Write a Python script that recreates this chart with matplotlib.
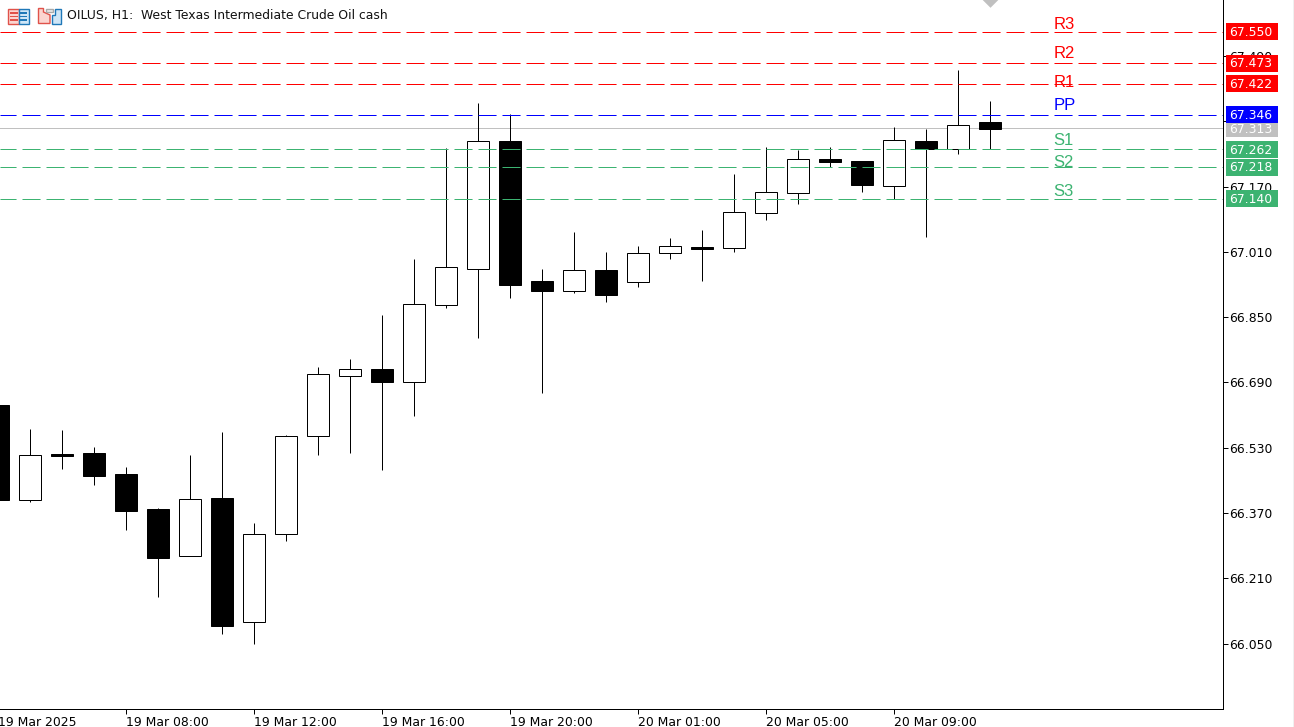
import matplotlib
matplotlib.use("Agg")
import matplotlib.pyplot as plt
from matplotlib.patches import Rectangle, Polygon

W, H = 1294, 727
plt.rcParams["font.family"] = ["DejaVu Sans"]
plt.rcParams["lines.scale_dashes"] = False

# candles, one per hour, oldest first
opens = [66.635, 66.402, 66.515, 66.518, 66.466, 66.381, 66.264, 66.408, 66.102, 66.318,
         66.558, 66.707, 66.723, 66.690, 66.881, 66.969, 67.282, 66.939, 66.915, 66.966,
         66.937, 67.008, 67.022, 67.020, 67.106, 67.155, 67.238, 67.233, 67.172, 67.282,
         67.263, 67.328]
highs = [66.635, 66.576, 66.574, 66.532, 66.483, 66.383, 66.513, 66.569, 66.346, 66.562,
         66.728, 66.748, 66.856, 66.993, 67.264, 67.375, 67.348, 66.968, 67.059, 67.010,
         67.025, 67.044, 67.064, 67.201, 67.266, 67.260, 67.266, 67.233, 67.316, 67.311,
         67.456, 67.380]
lows = [66.403, 66.396, 66.477, 66.439, 66.329, 66.165, 66.264, 66.074, 66.050, 66.302,
        66.513, 66.518, 66.476, 66.608, 66.873, 66.799, 66.897, 66.665, 66.910, 66.888,
        66.924, 66.993, 66.939, 67.010, 67.088, 67.128, 67.218, 67.157, 67.140, 67.047,
        67.250, 67.262]
closes = [66.403, 66.512, 66.511, 66.461, 66.376, 66.261, 66.404, 66.094, 66.319, 66.559,
          66.710, 66.723, 66.692, 66.882, 66.973, 67.281, 66.929, 66.914, 66.965, 66.905,
          67.007, 67.024, 67.017, 67.107, 67.156, 67.237, 67.230, 67.174, 67.284, 67.262,
          67.320, 67.311]

# pivot levels
level_names = ["R3", "R2", "R1", "PP", "S1", "S2", "S3"]
level_values = [67.550, 67.473, 67.422, 67.346, 67.262, 67.218, 67.140]
level_colors = ["#ff0000", "#ff0000", "#ff0000", "#0000ff", "#3cb371", "#3cb371", "#3cb371"]
level_label_y = [67.557, 67.486, 67.415, 67.359, 67.273, 67.217, 67.146]
current_price = 67.313

y_ticks = [66.050, 66.210, 66.370, 66.530, 66.690, 66.850, 67.010, 67.170, 67.330, 67.490]
x_tick_pos = [0, 4, 8, 12, 16, 20, 24, 28]
x_tick_labels = ["19 Mar 2025", "19 Mar 08:00", "19 Mar 12:00", "19 Mar 16:00",
                 "19 Mar 20:00", "20 Mar 01:00", "20 Mar 05:00", "20 Mar 09:00"]
title = "OILUS, H1:  West Texas Intermediate Crude Oil cash"

FS = 8.9
PX = 0.72  # one pixel in points at dpi 100
AX_R, AX_B = 1223.0, 709.0
Y_HI = 67.62745
Y_LO = Y_HI - AX_B / 408.0

fig = plt.figure(figsize=(W / 100, H / 100), dpi=100, facecolor="white")
ax = fig.add_axes([0, (H - AX_B) / H, AX_R / W, AX_B / H], facecolor="white")
ax.set_xlim(2.0 / 32, (AX_R + 2.0) / 32)
ax.set_ylim(Y_LO, Y_HI)
for s in ("top", "left"):
    ax.spines[s].set_visible(False)
for s in ("right", "bottom"):
    ax.spines[s].set_linewidth(PX)
    ax.spines[s].set_color("black")

# current price runs behind the candles
ax.axhline(current_price, color="#c0c0c0", lw=PX, zorder=1)

# candles
xs = list(range(len(opens)))
ax.vlines(xs, lows, highs, color="black", lw=PX, zorder=2)
for x, o, c in zip(xs, opens, closes):
    up = c > o
    ax.bar(x, abs(c - o), bottom=min(o, c), width=0.68,
           facecolor="white" if up else "black", edgecolor="black",
           linewidth=PX, zorder=3)

# levels
for v, col in zip(level_values, level_colors):
    ax.axhline(v, color=col, lw=PX, linestyle=(1.44, (13.0, 4.28)), zorder=4,
               dash_capstyle="butt")

for name, ly, col in zip(level_names, level_label_y, level_colors):
    ax.text(32.98, ly, name, color=col, fontsize=12, family="Liberation Sans",
            ha="left", va="baseline", zorder=5)

# axes ticks
ax.yaxis.tick_right()
ax.set_yticks(y_ticks)
ax.set_yticklabels([f"{v:.3f}" for v in y_ticks], fontsize=FS)
ax.tick_params(axis="y", length=3.4, width=PX, pad=1.0)
ax.set_xticks(x_tick_pos[1:])
ax.set_xticklabels(x_tick_labels[1:], fontsize=FS, ha="left")
ax.tick_params(axis="x", length=3.4, width=PX, pad=1.5)
ax.annotate(x_tick_labels[0], xy=(x_tick_pos[0], 0), xycoords=ax.get_xaxis_transform(),
            xytext=(0, -4.9), textcoords="offset points", fontsize=FS,
            ha="left", va="top", annotation_clip=False)

# price boxes on the scale
upp = (Y_HI - Y_LO) / AX_B
box_tf = ax.get_yaxis_transform()
order = [(current_price, "#c0c0c0")] + list(zip(level_values, level_colors))
for v, col in order:
    ax.add_patch(Rectangle((1226 / AX_R, v - 8.5 * upp), 52 / AX_R, 17 * upp,
                           transform=box_tf, facecolor=col, edgecolor="none",
                           clip_on=False, zorder=6))
    ax.text(1229 / AX_R, v + 0.6 * upp, f"{v:.3f}", transform=box_tf, color="white",
            fontsize=FS, ha="left", va="center_baseline", clip_on=False, zorder=7)

# header
fig.text(67 / W, 1 - 16 / H, title, fontsize=FS, ha="left", va="center", color="#111111")


def rect(x, y, w, h, fc, ec="none", lw=0):
    fig.add_artist(Rectangle((x, H - y - h), w, h, transform=None, facecolor=fc,
                             edgecolor=ec, linewidth=lw))


def poly(pts, fc, ec="none", lw=0):
    fig.add_artist(Polygon([(x, H - y) for x, y in pts], closed=True, transform=None,
                           facecolor=fc, edgecolor=ec, linewidth=lw))


# window icons
rect(7.5, 8.5, 11, 15, "#fbd5d0", "#e0524a", 1.0)
rect(18.5, 8.5, 10, 15, "#cfe6f7", "#1f78b8", 1.0)
for yy in (12, 15.5, 19):
    rect(9.5, yy, 8, 1.5, "#e0524a")
    rect(20, yy, 7, 1.5, "#1f78b8")
poly([(38.5, 8.5), (43.5, 8.5), (43.5, 12), (50, 15), (50, 23.5), (38.5, 23.5)],
     "#fbd5d0", "#e0524a", 1.0)
poly([(51.5, 15), (55, 15), (55, 8.5), (60.5, 8.5), (60.5, 23.5), (51.5, 23.5)],
     "#cfe6f7", "#1f78b8", 1.0)
rect(45.5, 8.5, 7.5, 3.5, "#eeeeee", "#aaaaaa", 1.0)

# last-bar marker at the top edge and window edge
poly([(982.7, 0), (998.3, 0), (990.5, 7.8)], "#c0c0c0")
rect(1293, 0, 1, H, "#f0f0f0")

fig.savefig("out.png", dpi=100, facecolor="white")
